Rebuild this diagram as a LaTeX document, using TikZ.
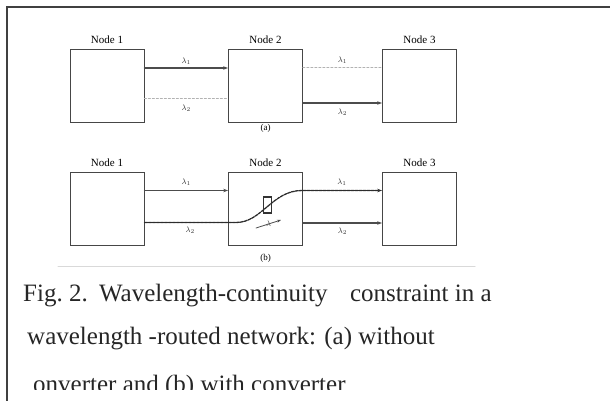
\documentclass[tikz,border=0pt]{standalone}
\usepackage{fontspec}
\setmainfont{Liberation Serif}
\usetikzlibrary{arrows.meta}

\begin{document}
\begin{tikzpicture}[x=1pt,y=-1pt,>={Stealth[length=5pt,width=3.5pt]},line cap=round,
  nodebox/.style={draw=gray!55!black,line width=0.8pt,minimum width=74pt,minimum height=73pt,inner sep=0pt},
  nodelab/.style={font=\fontsize{11}{12}\selectfont,inner sep=0pt,above=5pt},
  lam/.style={font=\fontsize{8.5}{9}\selectfont,inner sep=1pt,text=black!80},
  fibre/.style={gray!60!black,line width=1.1pt},
  idle/.style={gray!60,line width=1pt,dash pattern=on 2pt off 2pt},
  conv/.style={gray!35!black,line width=1.3pt,dash pattern=on 3pt off 1pt},
  capline/.style={anchor=base west,inner sep=0pt,font=\fontsize{25}{30}\selectfont,text=black!85}]
\useasboundingbox (0,0) rectangle (610,401);
\fill[white] (0,0) rectangle (610,401);
\draw[black!75,line width=2.2pt] (610,7) -- (7,7) -- (7,401);

\node[nodebox] (n1a) at (107,86) {};
\node[nodebox] (n2a) at (265.5,86) {};
\node[nodebox] (n3a) at (419.5,86) {};
\node[nodelab] (t1a) at (n1a.north) {Node 1};
\node[nodelab] (t2a) at (n2a.north) {Node 2};
\node[nodelab] (t3a) at (n3a.north) {Node 3};
\draw[fibre,->] ([yshift=18pt]n1a.east) -- node[lam,above=2pt] (l1a) {$\lambda_1$} ([yshift=18pt]n2a.west);
\draw[idle] ([yshift=-13pt]n1a.east) -- node[lam,below=4pt] (l2a) {$\lambda_2$} ([yshift=-13pt]n2a.west);
\draw[idle] ([yshift=18pt]n2a.east) -- node[lam,above=3pt] (l3a) {$\lambda_1$} ([yshift=18pt]n3a.west);
\draw[fibre,->] ([yshift=-17pt]n2a.east) -- node[lam,below=4pt] (l4a) {$\lambda_2$} ([yshift=-17pt]n3a.west);
\node[font=\fontsize{9}{10}\selectfont] (suba) at (265.5,128) {(a)};

\node[nodebox] (n1b) at (107,208.5) {};
\node[nodebox] (n2b) at (265.5,208.5) {};
\node[nodebox] (n3b) at (419.5,208.5) {};
\node[nodelab] (t1b) at (n1b.north) {Node 1};
\node[nodelab] (t2b) at (n2b.north) {Node 2};
\node[nodelab] (t3b) at (n3b.north) {Node 3};
\node[draw=black!80,line width=1.2pt,minimum width=8pt,minimum height=16pt,inner sep=0pt] (cv) at (267.5,205) {};
\coordinate (bendin) at (236,222.5);
\coordinate (bendout) at (302,190.5);
\draw[fibre,->] ([yshift=18pt]n1b.east) -- node[lam,above=3pt] (l1b) {$\lambda_1$} ([yshift=18pt]n2b.west);
\draw[conv,->] ([yshift=-14pt]n1b.east) -- node[lam,below=3pt] (l2b) {$\lambda_2$} (bendin)
  .. controls (262,222.5) and (272,190.5) .. (bendout) -- node[lam,above=3pt] (l3b) {$\lambda_1$} ([yshift=18pt]n3b.west);
\draw[fibre,->] ([yshift=-14.5pt]n2b.east) -- node[lam,below=3pt] (l4b) {$\lambda_2$} ([yshift=-14.5pt]n3b.west);
\coordinate (wa) at (256,228);
\coordinate (wb) at (281,220);
\draw[->,black!70,line width=0.8pt,>={Stealth[length=4pt,width=3pt]}] (wa) -- node[font=\fontsize{8}{8}\selectfont,inner sep=0pt] (lw) {$\lambda$} (wb);
\node[font=\fontsize{9}{10}\selectfont] (subb) at (265.5,258) {(b)};
\draw[gray!30,line width=1pt] (58,266) -- (475,266);

\node[capline] (cap1) at (23,301.5) {Fig.\ 2.\hspace{0.45em}Wavelength-continuity\hspace{0.9em}constraint in a};
\node[capline] (cap2) at (27,344) {wavelength -routed network: (a) without};
\begin{scope}
\clip (0,360) rectangle (610,389.5);
\node[capline] (cap3) at (33,392) {onverter and (b) with converter};
\end{scope}
\end{tikzpicture}
\end{document}
